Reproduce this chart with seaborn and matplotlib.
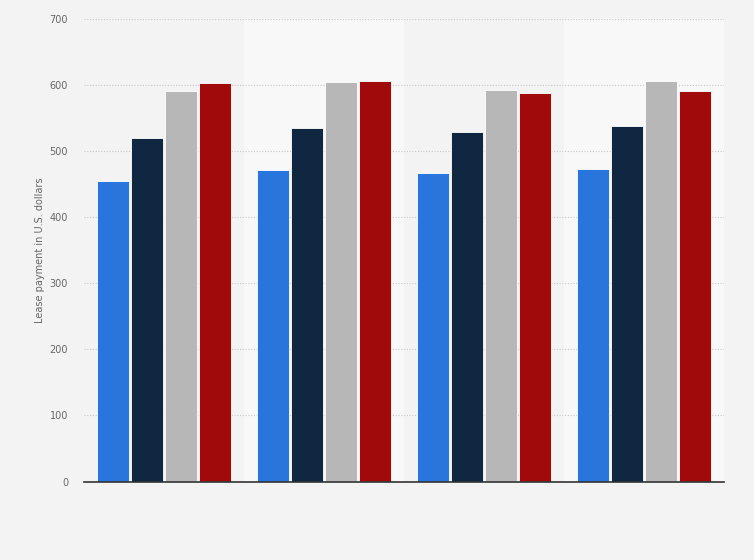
import matplotlib
matplotlib.use("Agg")
import matplotlib.pyplot as plt
import seaborn as sns
import pandas as pd

categories = ["Group 1", "Group 2", "Group 3", "Group 4"]
series_names = ["Series 1", "Series 2", "Series 3", "Series 4"]
series_1 = [455, 472, 467, 474]
series_2 = [520, 536, 530, 539]
series_3 = [591, 605, 593, 606]
series_4 = [603, 607, 588, 591]
y_ticks = [0, 100, 200, 300, 400, 500, 600, 700]
y_label = "Lease payment in U.S. dollars"

colors = ["#2876dd", "#0f2741", "#b7b7b7", "#a10a0b"]

rows = []
for name, vals in zip(series_names, [series_1, series_2, series_3, series_4]):
    for c, v in zip(categories, vals):
        rows.append({"category": c, "series": name, "value": v})
df = pd.DataFrame(rows)

sns.set_style("white")
plt.rcParams['font.family'] = ['DejaVu Sans']

fig = plt.figure(figsize=(7.54, 5.60), dpi=100)
fig.patch.set_facecolor("#f3f3f3")
ax = fig.add_axes([84/754, 78.5/560, 640/754, 462.2/560])
ax.set_facecolor("#f3f3f3")

# alternating bands
for i in range(len(categories)):
    if i % 2 == 1:
        ax.axvspan(i - 0.5, i + 0.5, color="#f8f8f8", zorder=0, lw=0)

sns.barplot(data=df, x="category", y="value", hue="series", palette=colors,
            saturation=1, width=0.85, gap=0.06, edgecolor="#ffffff", linewidth=0.6,
            ax=ax, legend=False, zorder=3, errorbar=None)

ax.set_xlim(-0.5, len(categories) - 0.5)
ax.set_ylim(0, 700)
ax.set_yticks(y_ticks)
ax.set_yticklabels([str(t) for t in y_ticks], color="#666666", fontsize=7)
ax.set_xticks([])
ax.set_xlabel("")
ax.set_ylabel(y_label, color="#666666", fontsize=7, labelpad=3)
ax.tick_params(axis="y", length=0, pad=11.5)
ax.yaxis.grid(True, linestyle=(0, (1, 1.5)), color="#c8c8c8", linewidth=0.8, zorder=1)
ax.set_axisbelow(True)
for s in ["top", "right", "left"]:
    ax.spines[s].set_visible(False)
ax.spines["bottom"].set_color("#333333")
ax.spines["bottom"].set_linewidth(1.2)
ax.spines["bottom"].set_zorder(5)

fig.savefig("out.png", dpi=100, facecolor=fig.get_facecolor())
